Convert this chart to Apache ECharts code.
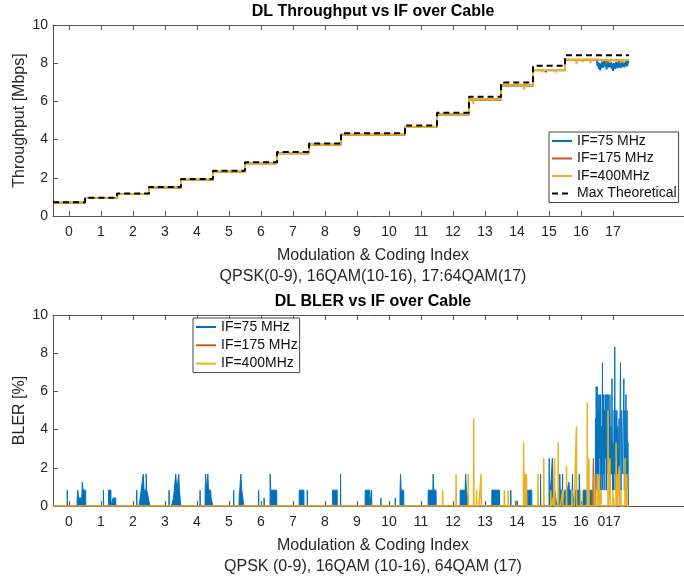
<!DOCTYPE html>
<html>
<head>
<meta charset="utf-8">
<title>DL Throughput / BLER vs IF over Cable</title>
<script src="https://cdn.jsdelivr.net/npm/echarts@6/dist/echarts.min.js"></script>
<style>
  html, body { margin: 0; padding: 0; background: #fff; }
  #chart { width: 684px; height: 580px; }
</style>
</head>
<body>
<div id="chart"></div>
<script>
// MCS index, one step per index
const mcsIdx = [0, 1, 2, 3, 4, 5, 6, 7, 8, 9, 10, 11, 12, 13, 14, 15, 16, 17]
// bottom plot tick labels (the stray "0" sits just left of 17)
const blerLabelPos = [0, 1, 2, 3, 4, 5, 6, 7, 8, 9, 10, 11, 12, 13, 14, 15, 16, 16.64, 17]
const blerLabelText = ['0', '1', '2', '3', '4', '5', '6', '7', '8', '9', '10', '11', '12', '13', '14', '15', '16', '0', '17']

const names = ['IF=75 MHz', 'IF=175 MHz', 'IF=400MHz', 'Max Theoretical']

// throughput level per MCS [Mbps]
const maxTheory = [0.72, 0.96, 1.18, 1.52, 1.94, 2.37, 2.81, 3.35, 3.80, 4.33, 4.33, 4.74, 5.41, 6.24, 6.99, 7.86, 8.42, 8.42]
const tput75 = [0.70, 0.94, 1.15, 1.49, 1.90, 2.32, 2.76, 3.29, 3.73, 4.25, 4.25, 4.66, 5.32, 6.09, 6.83, 7.63, 8.17, 8.12]
const tput175 = [0.70, 0.94, 1.15, 1.49, 1.90, 2.32, 2.76, 3.29, 3.73, 4.25, 4.25, 4.66, 5.33, 6.10, 6.84, 7.64, 8.18, 8.16]
const tput400 = [0.70, 0.94, 1.15, 1.49, 1.90, 2.32, 2.76, 3.29, 3.73, 4.25, 4.25, 4.66, 5.33, 6.10, 6.84, 7.64, 8.18, 8.17]

// deviations from the level: bursts of [mcs, Mbps] samples
const tput75Dips = [
  [[13.72, 6.74]], [[14.90, 7.52]], [[15.35, 7.55]],
  [[16.50, 8.10], [16.52, 7.85], [16.54, 8.05], [16.56, 7.70], [16.58, 8.00], [16.60, 7.62], [16.62, 7.95], [16.64, 7.80],
   [16.66, 8.08], [16.68, 7.75], [16.70, 7.98], [16.72, 7.90], [16.74, 8.12], [16.76, 7.82], [16.78, 7.95], [16.80, 7.68],
   [16.82, 8.02], [16.84, 7.88], [16.86, 8.10], [16.88, 7.78], [16.90, 7.92], [16.92, 7.85], [16.94, 8.05], [16.96, 7.72],
   [16.98, 7.95], [17.00, 7.60], [17.02, 8.00], [17.04, 7.82], [17.06, 7.98], [17.08, 7.70], [17.10, 8.06], [17.12, 7.88],
   [17.14, 7.95], [17.16, 7.76], [17.18, 8.10], [17.20, 7.84], [17.22, 8.00], [17.24, 7.74], [17.26, 7.96], [17.28, 7.86],
   [17.30, 8.08], [17.32, 7.80], [17.34, 7.94], [17.36, 7.78], [17.38, 8.04], [17.40, 7.90], [17.42, 8.12], [17.44, 7.84],
   [17.46, 8.00], [17.48, 7.92]]
]
const tput175Dips = [[[16.80, 8.02]], [[17.20, 8.00]]]
const tput400Dips = [
  [[12.64, 5.86]], [[13.95, 6.75]], [[14.22, 6.63]], [[14.78, 7.52]], [[15.00, 7.55]], [[15.22, 7.50]],
  [[15.86, 7.95]], [[16.05, 8.05]], [[16.30, 8.00]], [[16.90, 8.02]], [[17.30, 8.04]]
]

// BLER [%]: bursts of non-zero samples, zero in between
const bler75 = [
  [[-0.05, 0.83]],
  [[0.26, 0.42], [0.29, 0.83], [0.31, 0.42], [0.40, 0.42], [0.43, 1.25], [0.45, 0.83], [0.52, 0.83]],
  [[1.08, 0.83]],
  [[1.24, 0.83], [1.31, 0.83]],
  [[1.38, 0.42], [1.46, 0.42]],
  [[2.12, 0.83]],
  [[2.26, 0.83], [2.31, 0.83], [2.33, 1.67], [2.36, 0.83], [2.40, 0.83], [2.42, 1.67], [2.44, 0.83], [2.47, 0.83], [2.49, 0.42], [2.52, 0.42]],
  [[3.13, 0.83]],
  [[3.27, 0.42], [3.31, 0.83], [3.36, 1.67], [3.38, 0.83], [3.42, 0.83], [3.44, 1.67], [3.46, 0.83], [3.49, 0.83]],
  [[4.10, 0.83]],
  [[4.26, 0.83], [4.28, 1.67], [4.30, 0.83], [4.33, 0.83], [4.35, 1.67], [4.37, 0.83], [4.43, 0.83], [4.45, 0.42], [4.49, 0.42]],
  [[5.15, 0.83]],
  [[5.32, 0.42], [5.35, 0.83], [5.39, 1.67], [5.41, 0.83], [5.46, 0.83]],
  [[5.93, 0.83]],
  [[6.10, 0.42]],
  [[6.29, 1.67], [6.32, 0.83], [6.49, 0.83]],
  [[7.20, 0.83], [7.34, 0.83]],
  [[7.45, 0.83]],
  [[8.24, 0.83], [8.38, 0.83]],
  [[8.49, 1.67]],
  [[9.26, 0.83], [9.40, 0.83]],
  [[9.46, 0.83]],
  [[9.75, 0.42]],
  [[10.20, 0.42]],
  [[10.35, 0.83], [10.37, 1.67], [10.39, 0.83], [10.46, 0.83]],
  [[11.23, 0.83], [11.37, 0.83], [11.39, 1.67], [11.41, 0.83], [11.47, 0.83]],
  [[12.23, 0.83], [12.38, 0.83], [12.41, 1.67], [12.43, 0.83], [12.48, 0.83]],
  [[13.22, 0.83], [13.45, 0.83]],
  [[13.81, 0.83]],
  [[13.97, 0.28]],
  [[14.33, 0.83], [14.46, 0.83]],
  [[14.74, 1.67]],
  [[15.01, 2.5]],
  [[15.05, 0.83], [15.10, 0.83], [15.11, 2.5], [15.12, 0.83], [15.24, 0.83]],
  [[15.34, 1.67], [15.36, 0.83], [15.42, 0.83], [15.43, 1.67]],
  [[15.50, 0.83], [15.62, 0.83], [15.63, 1.25], [15.64, 0.83], [15.71, 0.83]],
  [[15.74, 1.67]],
  [[15.81, 0.83], [15.94, 0.83], [15.95, 1.67], [15.97, 0.83]],
  [[16.07, 0.83], [16.33, 0.83]]
]
// MCS 17 burst at 75 MHz (dense, drawn without fill)
const bler75Dense = [
  [16.45, 1.67], [16.46, 4.58], [16.47, 1.67], [16.48, 6.25], [16.50, 0.83], [16.51, 6.25], [16.53, 1.67], [16.54, 5.83],
  [16.56, 0.83], [16.57, 5.0], [16.58, 2.5], [16.59, 5.83], [16.61, 0.83], [16.62, 5.83], [16.64, 1.67], [16.65, 4.17],
  [16.66, 0.83], [16.68, 7.5], [16.69, 0.83], [16.71, 5.83], [16.72, 1.67], [16.74, 5.0], [16.75, 0.83], [16.76, 5.83],
  [16.78, 2.5], [16.79, 5.83], [16.81, 0.83], [16.82, 5.83], [16.84, 1.67], [16.86, 5.83], [16.87, 0.83], [16.89, 5.0],
  [16.90, 1.67], [16.91, 5.83], [16.93, 0.83], [16.95, 4.17], [16.96, 1.67], [16.98, 6.67], [16.99, 0.83], [17.01, 3.33],
  [17.03, 0.83], [17.04, 5.0], [17.05, 1.67], [17.06, 8.33], [17.08, 0.83], [17.10, 5.0], [17.11, 2.5], [17.13, 5.0],
  [17.14, 0.83], [17.16, 4.17], [17.18, 1.67], [17.20, 4.58], [17.21, 0.83], [17.23, 5.0], [17.24, 7.5], [17.26, 0.83],
  [17.28, 5.0], [17.30, 5.0], [17.31, 1.67], [17.33, 4.17], [17.35, 6.67], [17.36, 0.83], [17.38, 5.0], [17.40, 1.67],
  [17.41, 5.83], [17.43, 0.83], [17.45, 5.0], [17.46, 0.83], [17.47, 3.33], [17.48, 1.67]
]
const bler175 = [[[16.36, 0.83]], [[16.39, 2.5]], [[17.02, 0.42]]]
const bler400 = [
  [[11.68, 0.83]], [[12.10, 1.67]], [[12.48, 1.67]], [[12.65, 4.58]], [[12.74, 0.83]], [[12.88, 1.67]],
  [[13.61, 0.83]], [[13.73, 0.83]], [[14.21, 3.33], [14.22, 3.33]], [[14.27, 1.67]], [[14.30, 1.67]],
  [[14.66, 1.67]], [[14.84, 2.5]], [[15.06, 0.83]], [[15.13, 0.42]], [[15.18, 2.5]], [[15.29, 3.33]], [[15.43, 0.83]],
  [[15.55, 2.08]], [[15.72, 0.83]], [[15.86, 4.17]], [[15.99, 0.83]], [[16.20, 5.42]], [[16.25, 2.5]],
  [[16.42, 1.67]], [[16.51, 1.67]], [[16.57, 1.67]], [[16.63, 0.83]], [[16.85, 5.0]], [[16.91, 2.5]],
  [[17.00, 0.83]], [[17.10, 3.33]], [[17.13, 1.67]], [[17.20, 2.08]], [[17.25, 0.83]], [[17.38, 2.5]], [[17.44, 1.67]]
]

const EDGE = 0.008
const C75 = '#0072BD'
const C175 = '#D95319'
const C400 = '#EDB120'
const AX = '#555'
const TXT = '#262626'
const FONT = '"Liberation Sans", Arial, Helvetica, sans-serif'

function levelAt(levels, x) {
  return levels[Math.min(17, Math.max(0, Math.round(x)))]
}

// staircase of levels with the burst samples dropped in
function buildTrace(levels, bursts) {
  const pts = []
  mcsIdx.forEach((m, i) => {
    pts.push([m - 0.5, levels[i]], [m + 0.5, levels[i]])
  })
  bursts.forEach(b => {
    const x0 = b[0][0] - EDGE
    const x1 = b[b.length - 1][0] + EDGE
    pts.push([x0, levelAt(levels, x0)], ...b, [x1, levelAt(levels, x1)])
  })
  return pts.sort((a, b) => a[0] - b[0])
}

// zero baseline with bursts
function buildBler(bursts) {
  const pts = [[-0.5, 0], [17.5, 0]]
  bursts.forEach(b => {
    pts.push([b[0][0] - EDGE, 0], ...b, [b[b.length - 1][0] + EDGE, 0])
  })
  return pts.sort((a, b) => a[0] - b[0])
}

function xAxes(gridIndex, name, labelPos, labelFmt) {
  return [{
    type: 'value', gridIndex, min: -0.5, max: 19.5,
    axisLine: { onZero: false, lineStyle: { color: AX, width: 1 } },
    axisTick: { inside: true, length: 5, customValues: mcsIdx, lineStyle: { color: AX } },
    axisLabel: { customValues: labelPos, formatter: labelFmt, margin: 9, fontSize: 14, color: TXT, fontFamily: FONT },
    splitLine: { show: false },
    name, nameLocation: 'middle', nameGap: 29, nameMoveOverlap: false,
    nameTextStyle: { fontSize: 16, lineHeight: 21, color: TXT, fontFamily: FONT }
  }, {
    type: 'value', gridIndex, min: -0.5, max: 19.5, position: 'top',
    axisLine: { onZero: false, lineStyle: { color: AX, width: 1 } },
    axisTick: { inside: true, length: 5, customValues: mcsIdx, lineStyle: { color: AX } },
    axisLabel: { show: false },
    splitLine: { show: false }
  }]
}

function yAxis(gridIndex, name) {
  return {
    type: 'value', gridIndex, min: 0, max: 10, interval: 2,
    axisLine: { show: true, onZero: false, lineStyle: { color: AX, width: 1 } },
    axisTick: { show: true, inside: true, length: 5, lineStyle: { color: AX } },
    axisLabel: { margin: 5, fontSize: 14, color: TXT, fontFamily: FONT },
    splitLine: { show: false },
    name, nameLocation: 'middle', nameGap: 25, nameMoveOverlap: false,
    nameTextStyle: { fontSize: 16, color: TXT, fontFamily: FONT }
  }
}

function line(name, color, data, xi, yi, width, extra) {
  return Object.assign({
    type: 'line', name, data, xAxisIndex: xi, yAxisIndex: yi,
    symbol: 'none', showSymbol: false, silent: true,
    lineStyle: { color, width }, itemStyle: { color }
  }, extra || {})
}

const legendBase = {
  orient: 'vertical', itemWidth: 20, itemHeight: 14,
  backgroundColor: '#fff', borderColor: '#444', borderWidth: 1, borderRadius: 0,
  itemStyle: { opacity: 0 },
  textStyle: { fontSize: 14, color: '#111', fontFamily: FONT }
}

const chart = echarts.init(document.getElementById('chart'), null, { renderer: 'canvas' })
chart.setOption({
  animation: false,
  textStyle: { fontFamily: FONT },
  title: [
    { text: 'DL Throughput vs IF over Cable', left: 373, top: 4, textAlign: 'center', padding: 0,
      textStyle: { fontSize: 16, fontWeight: 'bold', color: '#000', fontFamily: FONT } },
    { text: 'DL BLER vs IF over Cable', left: 373, top: 294, textAlign: 'center', padding: 0,
      textStyle: { fontSize: 16, fontWeight: 'bold', color: '#000', fontFamily: FONT } }
  ],
  grid: [
    { left: 53, right: -9, top: 25, height: 191, outerBoundsMode: 'none' },
    { left: 53, right: -9, top: 315, height: 191, outerBoundsMode: 'none' }
  ],
  xAxis: [
    ...xAxes(0, 'Modulation & Coding Index\nQPSK(0-9), 16QAM(10-16), 17:64QAM(17)', mcsIdx, v => String(v)),
    ...xAxes(1, 'Modulation & Coding Index\nQPSK (0-9), 16QAM (10-16), 64QAM (17)', blerLabelPos,
      v => blerLabelText[blerLabelPos.indexOf(v)])
  ],
  yAxis: [yAxis(0, 'Throughput [Mbps]'), yAxis(1, 'BLER [%]')],
  legend: [
    Object.assign({}, legendBase, {
      data: names, left: 549, top: 132, padding: [2, 2, 2, 2], itemGap: 3.5
    }),
    Object.assign({}, legendBase, {
      data: names.slice(0, 3), left: 193, top: 318, padding: [2, 2, 2, 2], itemGap: 4.3
    })
  ],
  series: [
    line(names[0], C75, buildTrace(tput75, tput75Dips), 0, 0, 2),
    line(names[1], C175, buildTrace(tput175, tput175Dips), 0, 0, 2),
    line(names[2], C400, buildTrace(tput400, tput400Dips), 0, 0, 2),
    line(names[3], '#000', buildTrace(maxTheory, []), 0, 0, 2, {
      lineStyle: { color: '#000', width: 2, type: [6, 4] }
    }),
    line(names[0], C75, buildBler(bler75), 2, 1, 1, { step: 'middle', areaStyle: { color: C75, opacity: 1 } }),
    line(names[0], C75, buildBler([bler75Dense]), 2, 1, 1, { step: 'middle' }),
    line(names[1], C175, buildBler(bler175), 2, 1, 1.2, { step: 'middle' }),
    line(names[2], C400, buildBler(bler400), 2, 1, 1.5, { step: 'middle' })
  ]
})
</script>
</body>
</html>
